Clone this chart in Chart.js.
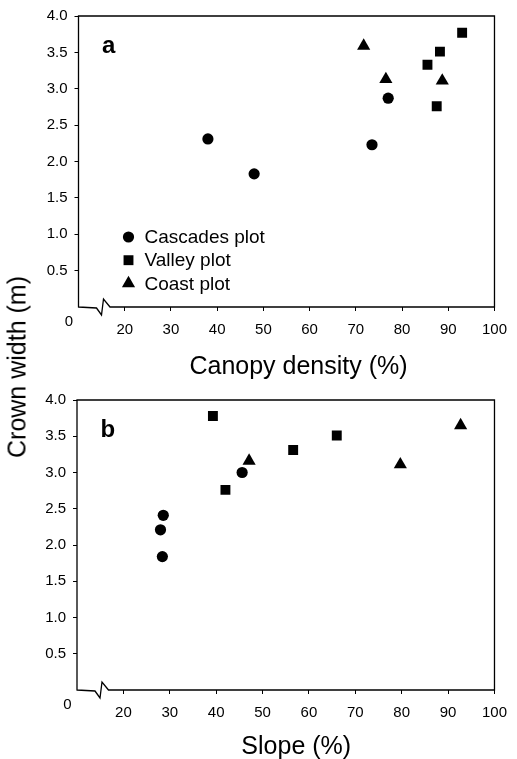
<!DOCTYPE html>
<html>
<head>
<meta charset="utf-8">
<script src="https://cdn.jsdelivr.net/npm/chart.js@4.4.0/dist/chart.umd.min.js"></script>
<style>
  html, body { margin: 0; padding: 0; background: #fff; }
  #wrap { position: relative; width: 517px; height: 759px; overflow: hidden; }
  #boxA { position: absolute; left: 0; top: 0; width: 517px; height: 380px; }
  #boxB { position: absolute; left: 0; top: 380px; width: 517px; height: 379px; }
  #ytitle {
    position: absolute; left: 17px; top: 367px;
    transform: translate(-50%, -50%) rotate(-90deg);
    font: 25px "Liberation Sans", Arial, sans-serif;
    white-space: nowrap; color: #000;
  }
</style>
</head>
<body>
<div id="wrap">
  <div id="boxA"><canvas id="chartA"></canvas></div>
  <div id="boxB"><canvas id="chartB"></canvas></div>
  <div id="ytitle">Crown width (m)</div>
</div>
<script>
// series labels
const seriesNames = ['Cascades plot', 'Valley plot', 'Coast plot'];

// panel a: canopy density (%) vs crown width (m)
const cascadesCanopy = [38, 48, 73.5, 77];
const cascadesCanopyWidth = [2.31, 1.83, 2.23, 2.87];
const valleyCanopy = [93, 88.2, 85.5, 87.5];
const valleyCanopyWidth = [3.77, 3.51, 3.33, 2.76];
const coastCanopy = [71.7, 76.5, 88.7];
const coastCanopyWidth = [3.59, 3.13, 3.11];

// panel b: slope (%) vs crown width (m)
const cascadesSlope = [28.6, 28.0, 28.4, 45.6];
const cascadesSlopeWidth = [2.41, 2.21, 1.84, 3.0];
const valleySlope = [39.3, 42.0, 56.6, 66.0];
const valleySlopeWidth = [3.78, 2.76, 3.31, 3.51];
const coastSlope = [47.1, 79.7, 92.7];
const coastSlopeWidth = [3.16, 3.11, 3.65];

// axis ticks
const xMin = 10, xMax = 100, xStep = 10;
const yMin = 0, yMax = 4, yStep = 0.5;

const FONT = '"Liberation Sans", Arial, Helvetica, sans-serif';

function toPoints(xs, ys) {
  return xs.map((x, i) => ({ x: x, y: ys[i] }));
}

function drawMarker(ctx, style, x, y, r) {
  ctx.beginPath();
  if (style === 'circle') {
    ctx.arc(x, y, r, 0, Math.PI * 2);
  } else if (style === 'rect') {
    const s = r * Math.SQRT1_2;
    ctx.rect(x - s, y - s, 2 * s, 2 * s);
  } else {
    ctx.moveTo(x, y - r);
    ctx.lineTo(x + r * 0.866, y + r / 2);
    ctx.lineTo(x - r * 0.866, y + r / 2);
    ctx.closePath();
  }
  ctx.fill();
}

// frame, axis break, the shared "0", x title, panel letter and the legend
const decorPlugin = {
  id: 'decor',
  afterDraw(chart, args, opts) {
    const ctx = chart.ctx;
    const a = chart.chartArea;
    const L = a.left, R = a.right, T = a.top, B = a.bottom;
    ctx.save();
    ctx.strokeStyle = '#000';
    ctx.lineWidth = 1.3;
    ctx.beginPath();
    ctx.moveTo(L, B);
    ctx.lineTo(L + 18, B + 1);
    ctx.lineTo(L + 23, B + 8);
    ctx.lineTo(L + 25, B - 8);
    ctx.lineTo(L + 31.5, B);
    ctx.lineTo(R, B);
    ctx.lineTo(R, T);
    ctx.lineTo(L, T);
    ctx.closePath();
    ctx.stroke();

    ctx.fillStyle = '#000';
    ctx.font = '15px ' + FONT;
    ctx.textAlign = 'center';
    ctx.textBaseline = 'middle';
    ctx.fillText('0', L - 9.5, B + 15);

    ctx.font = '25px ' + FONT;
    ctx.fillText(opts.xTitle, (L + R) / 2 + opts.titleShift, B + opts.titleOffset);

    ctx.font = 'bold 24px ' + FONT;
    ctx.textAlign = 'left';
    ctx.textBaseline = 'alphabetic';
    ctx.fillText(opts.letter, L + 23.5, T + 37);

    if (opts.legend) {
      ctx.font = '19px ' + FONT;
      ctx.textBaseline = 'middle';
      chart.data.datasets.forEach((ds, i) => {
        const y = T + 221 + i * 23.2;
        drawMarker(ctx, ds.pointStyle, L + 50, y, ds.pointRadius);
        ctx.fillText(ds.label, L + 66, y + 1);
      });
    }
    ctx.restore();
  }
};

function makeDatasets(cx, cy, vx, vy, tx, ty) {
  const base = { backgroundColor: '#000', borderWidth: 0, pointBorderWidth: 0 };
  return [
    Object.assign({ label: seriesNames[0], data: toPoints(cx, cy), pointStyle: 'circle', pointRadius: 5.6 }, base),
    Object.assign({ label: seriesNames[1], data: toPoints(vx, vy), pointStyle: 'rect', pointRadius: 7 }, base),
    Object.assign({ label: seriesNames[2], data: toPoints(tx, ty), pointStyle: 'triangle', pointRadius: 7.6 }, base)
  ];
}

function makeChart(id, datasets, o) {
  return new Chart(document.getElementById(id), {
    type: 'scatter',
    data: { datasets: datasets },
    options: {
      responsive: true,
      maintainAspectRatio: false,
      animation: false,
      layout: { padding: { left: 0, top: o.padTop, right: o.padRight, bottom: 0 } },
      plugins: {
        legend: { display: false },
        tooltip: { enabled: false },
        decor: o
      },
      scales: {
        x: {
          type: 'linear', min: xMin, max: xMax,
          border: { display: false },
          grid: {
            drawOnChartArea: false, tickLength: 4, lineWidth: 1,
            color: c => (c.tick && c.tick.value === xMin) ? 'rgba(0,0,0,0)' : '#000'
          },
          ticks: {
            stepSize: xStep, autoSkip: false, maxRotation: 0, padding: 10, color: '#000',
            font: { family: FONT, size: 15 },
            callback: v => v === xMin ? '' : v
          },
          afterFit: s => { s.height = o.xHeight; }
        },
        y: {
          min: yMin, max: yMax,
          border: { display: false },
          grid: {
            drawOnChartArea: false, tickLength: 4, lineWidth: 1,
            color: c => (c.tick && c.tick.value === yMin) ? 'rgba(0,0,0,0)' : '#000'
          },
          ticks: {
            stepSize: yStep, padding: 7, color: '#000',
            font: { family: FONT, size: 15 },
            callback: v => v === yMin ? '' : v.toFixed(1)
          },
          afterFit: s => { s.width = o.yWidth; }
        }
      }
    },
    plugins: [decorPlugin]
  });
}

makeChart('chartA',
  makeDatasets(cascadesCanopy, cascadesCanopyWidth, valleyCanopy, valleyCanopyWidth, coastCanopy, coastCanopyWidth),
  { xTitle: 'Canopy density (%)', letter: 'a', legend: true, padTop: 16, padRight: 15,
    xHeight: 73, yWidth: 78.5, titleShift: 12, titleOffset: 60 });

makeChart('chartB',
  makeDatasets(cascadesSlope, cascadesSlopeWidth, valleySlope, valleySlopeWidth, coastSlope, coastSlopeWidth),
  { xTitle: 'Slope (%)', letter: 'b', legend: false, padTop: 20, padRight: 17,
    xHeight: 69, yWidth: 77, titleShift: 10.5, titleOffset: 57 });
</script>
</body>
</html>
